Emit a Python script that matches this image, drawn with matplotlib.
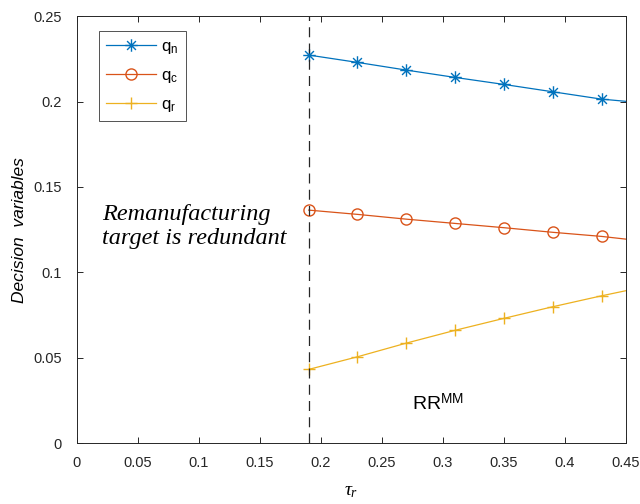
import matplotlib
matplotlib.use("Agg")
import matplotlib.pyplot as plt
from matplotlib.path import Path
import numpy as np

plt.rcParams['font.family'] = ['Liberation Sans', 'DejaVu Sans']
plt.rcParams['mathtext.fontset'] = 'custom'
plt.rcParams['mathtext.it'] = 'Liberation Serif:italic'
plt.rcParams['mathtext.rm'] = 'Liberation Sans'

tau = [0.19, 0.23, 0.27, 0.31, 0.35, 0.39, 0.43, 0.45]
q_n = [0.2272, 0.2229, 0.2184, 0.2141, 0.2100, 0.2057, 0.2014, 0.2001]
q_c = [0.1364, 0.1339, 0.1311, 0.1286, 0.1261, 0.1234, 0.1210, 0.1194]
q_r = [0.0431, 0.0505, 0.0585, 0.0660, 0.0730, 0.0798, 0.0862, 0.0892]
threshold = 0.19
xticks = [0, 0.05, 0.1, 0.15, 0.2, 0.25, 0.3, 0.35, 0.4, 0.45]
xticklabels = ['0', '0.05', '0.1', '0.15', '0.2', '0.25', '0.3', '0.35', '0.4', '0.45']
yticks = [0, 0.05, 0.1, 0.15, 0.2, 0.25]
yticklabels = ['0', '0.05', '0.1', '0.15', '0.2', '0.25']

c_n = '#0072BD'
c_c = '#D95319'
c_r = '#EDB120'

# MATLAB-style asterisk marker (8 arms)
verts = []
codes = []
for ang in np.arange(0, 180, 45):
    a = np.deg2rad(ang)
    verts += [(-np.cos(a), -np.sin(a)), (np.cos(a), np.sin(a))]
    codes += [Path.MOVETO, Path.LINETO]
ast = Path(verts, codes)

fig = plt.figure(figsize=(6.4, 5.04), dpi=100)
ax = fig.add_axes([0.120, 0.121, 0.858, 0.847])

mk = list(range(7))
ax.plot(tau, q_n, color=c_n, lw=0.9, marker=ast, ms=9, mew=1.0, markevery=mk, label=r'q$_{\mathrm{n}}$')
ax.plot(tau, q_c, color=c_c, lw=0.9, marker='o', ms=8, mfc='none', mew=1.0, markevery=mk, label=r'q$_{\mathrm{c}}$')
ax.plot(tau, q_r, color=c_r, lw=0.9, marker='+', ms=9, mew=1.0, markevery=mk, label=r'q$_{\mathrm{r}}$')
ax.axvline(threshold, color='#262626', lw=0.9, ls=(0, (8, 5)))

ax.set_xlim(0, 0.45)
ax.set_ylim(0, 0.25)
ax.set_xticks(xticks)
ax.set_xticklabels(xticklabels)
ax.set_yticks(yticks)
ax.set_yticklabels(yticklabels)
ax.tick_params(direction='in', top=True, right=True, labelsize=10.5, colors='#262626', length=4, width=0.7)
ax.tick_params(axis='x', pad=9)
ax.tick_params(axis='y', pad=11)
for s in ax.spines.values():
    s.set_color('#262626')
    s.set_linewidth(0.7)

ax.set_xlabel(r'$\tau_r$', fontsize=14, labelpad=10)
ax.set_ylabel('Decision  variables', fontsize=12.5, style='italic', labelpad=10)
ax.yaxis.set_label_coords(-0.090, 0.5)

ax.text(0.021, 0.127, 'Remanufacturing\ntarget is redundant', family='Liberation Serif',
        style='italic', fontsize=17.5, va='center', ha='left', linespacing=1.2)
ax.text(0.275, 0.023, r'RR$^{\mathrm{MM}}$', fontsize=14, va='center', ha='left')

leg = ax.legend(loc='upper left', bbox_to_anchor=(0.040, 0.965), fontsize=12, fancybox=False,
                edgecolor='#262626', handlelength=3.0, borderpad=0.45, labelspacing=0.72,
                handletextpad=0.3, borderaxespad=0)
leg.get_frame().set_linewidth(0.7)

fig.savefig('out.png', dpi=100)
